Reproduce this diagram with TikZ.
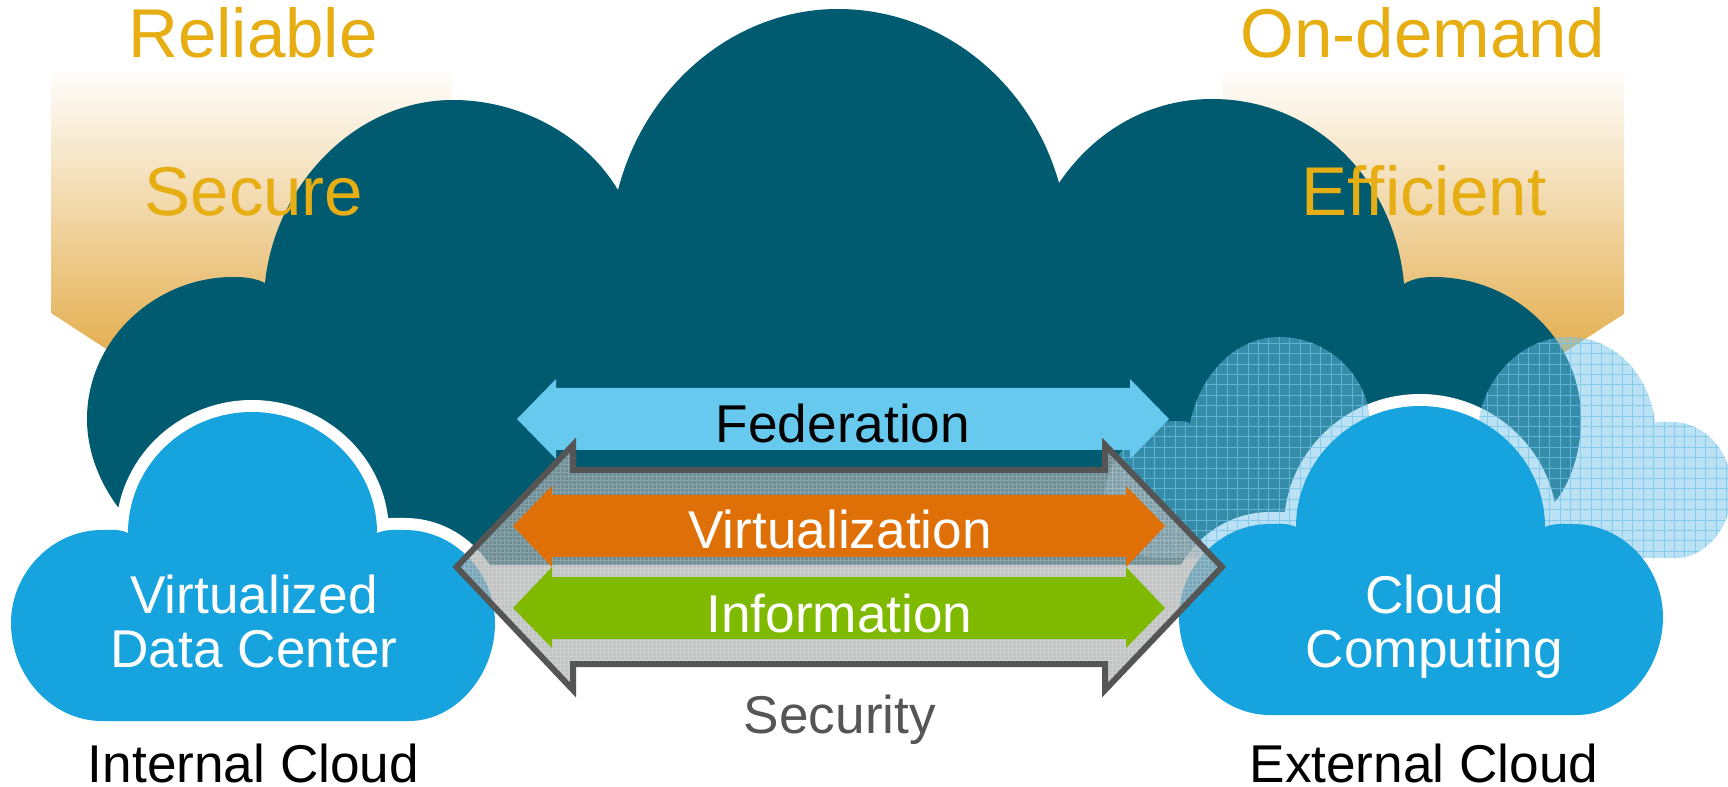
\documentclass[tikz,border=0pt]{standalone}
\usepackage{fontspec}
\setmainfont{Liberation Sans}
\definecolor{deepteal}{RGB}{0,90,112}
\definecolor{cloudblue}{RGB}{23,163,222}
\definecolor{paleblue}{RGB}{104,201,239}
\definecolor{skyblue}{RGB}{112,195,233}
\definecolor{arrorange}{RGB}{223,112,7}
\definecolor{arrgreen}{RGB}{128,186,0}
\definecolor{edgegray}{RGB}{85,85,85}
\definecolor{goldtext}{RGB}{230,174,18}
\definecolor{panelmid}{RGB}{242,218,185}
\definecolor{panellow}{RGB}{219,150,26}
\tikzset{every picture/.style={line width=0.75pt}}
\tikzset{
  panel/.style={top color=white,middle color=panelmid,bottom color=panellow},
  bigtext/.style={anchor=base,inner sep=0pt,font=\fontsize{39.9}{40.5}\selectfont},
  goldlabel/.style={anchor=base,inner sep=0pt,text=goldtext,font=\fontsize{51.8}{55}\selectfont},
  cloudlabel/.style={bigtext,anchor=center,align=center,text=white},
}
% outline of the blue cloud, from its top left corner
\newcommand{\cloudoutline}{(117,121) .. controls (117,54) and (173,0) .. (241,0) .. controls (309,0) and (366,54) .. (366,121) .. controls (376,117) and (384,118) .. (394,118) .. controls (444,118) and (484,161) .. (484,211) .. controls (484,264) and (444,309) .. (398,309) -- (91,309) .. controls (41,309) and (0,264) .. (0,211) .. controls (0,161) and (41,118) .. (91,118) .. controls (101,118) and (109,117) .. (117,121) -- cycle}
\newcommand{\skyoutline}{(1190,423) .. controls (1200,375) and (1235,337) .. (1279,337) .. controls (1325,337) and (1360,370) .. (1368,407) -- (1372,430) -- (1478,430) -- (1480,413) .. controls (1490,372) and (1525,337) .. (1569,337) .. controls (1615,337) and (1650,375) .. (1655,423) .. controls (1660,421) and (1666,422) .. (1672,422) .. controls (1705,422) and (1732,452) .. (1732,490) .. controls (1732,527) and (1705,558) .. (1677,558) -- (1160,558) .. controls (1120,558) and (1098,520) .. (1105,490) .. controls (1110,455) and (1140,421) .. (1175,421) .. controls (1180,421) and (1185,421) .. (1190,423) -- cycle}
\newcommand{\securityoutline}{(456.5,567) -- (573,445) -- (573,470) -- (1105,470) -- (1105,445) -- (1222,567) -- (1105,690) -- (1105,664) -- (573,664) -- (573,690) -- cycle}

\begin{document}
\begin{tikzpicture}[x=0.75pt,y=0.75pt,yscale=-1,xscale=1]
\useasboundingbox (0,0) rectangle (1728,787);

%Shape: Left panel
\shade [panel] (51,67) -- (452,67) -- (452,313) -- (251,443) -- (51,313) -- cycle ;
%Shape: Right panel
\shade [panel] (1223,67) -- (1624,67) -- (1624,314) -- (1423,443) -- (1223,314) -- cycle ;

%Shape: Large cloud
\fill [deepteal] (265,283) .. controls (275,185) and (355,100) .. (453,100) .. controls (520,100) and (585,135) .. (618,190) .. controls (645,85) and (735,9) .. (838,9) .. controls (940,9) and (1030,80) .. (1059,183) .. controls (1095,130) and (1150,99) .. (1212,99) .. controls (1315,99) and (1395,180) .. (1404,284) .. controls (1412,279) and (1422,277) .. (1433,277) .. controls (1515,277) and (1581,340) .. (1581,419) .. controls (1581,450) and (1572,478) .. (1558,498) -- (1500,565) -- (300,565) -- (118,507) .. controls (100,483) and (87,452) .. (87,419) .. controls (87,340) and (155,277) .. (233,277) .. controls (245,277) and (255,278) .. (265,283) -- cycle ;

%Shape: Halo of left cloud
\draw [white,fill=white,line width=18pt,line join=round,shift={(11,412)}] \cloudoutline ;
%Shape: Halo of right cloud
\draw [white,fill=white,line width=18pt,line join=round,shift={(1179,406)}] \cloudoutline ;

%Shape: Mesh cloud
\begin{scope}
\clip \skyoutline ;
\fill [skyblue,opacity=0.48] (1090,330) rectangle (1740,570) ;
\draw [step=10.4,skyblue,opacity=0.7,line width=0.55pt] (1081.6,322.4) grid (1740,570) ;
\end{scope}

%Shape: Left cloud
\fill [cloudblue,shift={(11,412)}] \cloudoutline ;
%Shape: Right cloud
\fill [cloudblue,shift={(1179,406)}] \cloudoutline ;

%Shape: Federation arrow
\fill [paleblue] (517,419) -- (556,379) -- (556,388) -- (1130,388) -- (1130,379) -- (1169,419) -- (1130,459) -- (1130,450) -- (556,450) -- (556,459) -- cycle ;

%Shape: Security arrow
\begin{scope}
\clip \securityoutline ;
\fill [fill={rgb,255:red,165;green,168;blue,168},opacity=0.68] (440,430) rectangle (1240,700) ;
\draw [step=4,white,opacity=0.2,line width=0.5pt] (440,428) grid (1240,700) ;
\end{scope}
\draw [edgegray,line width=4.5pt,miter limit=10] \securityoutline ;

%Shape: Virtualization arrow
\fill [arrorange] (513,526) -- (552,486) -- (552,495) -- (1126,495) -- (1126,486) -- (1165,526) -- (1126,567) -- (1126,557) -- (552,557) -- (552,567) -- cycle ;
%Shape: Information arrow
\fill [arrgreen] (513,608) -- (552,567) -- (552,577) -- (1126,577) -- (1126,567) -- (1165,608) -- (1126,648) -- (1126,639) -- (552,639) -- (552,648) -- cycle ;

% Text Node
\draw (253,58) node (reliable) [goldlabel] {Reliable};
% Text Node
\draw (254,216) node (secure) [goldlabel] {Secure};
% Text Node
\draw (1423,58) node (ondemand) [goldlabel] {On-demand};
% Text Node
\draw (1424,216) node (efficient) [goldlabel] {Efficient};
% Text Node
\draw (254,621.5) node (datacenter) [cloudlabel] {Virtualized\\Data Center};
% Text Node
\draw (1434.5,627) node (computing) [cloudlabel] {Cloud\\Computing};
% Text Node
\draw (253.5,782) node (internal) [bigtext] {Internal Cloud};
% Text Node
\draw (1424,782) node (external) [bigtext] {External Cloud};
% Text Node
\draw (843,443) node (federation) [bigtext] {Federation};
% Text Node
\draw (840,549) node (virtualization) [bigtext,text=white] {Virtualization};
% Text Node
\draw (839.5,632) node (information) [bigtext,text=white] {Information};
% Text Node
\draw (840,733) node (security) [bigtext,text=edgegray] {Security};

\end{tikzpicture}
\end{document}
